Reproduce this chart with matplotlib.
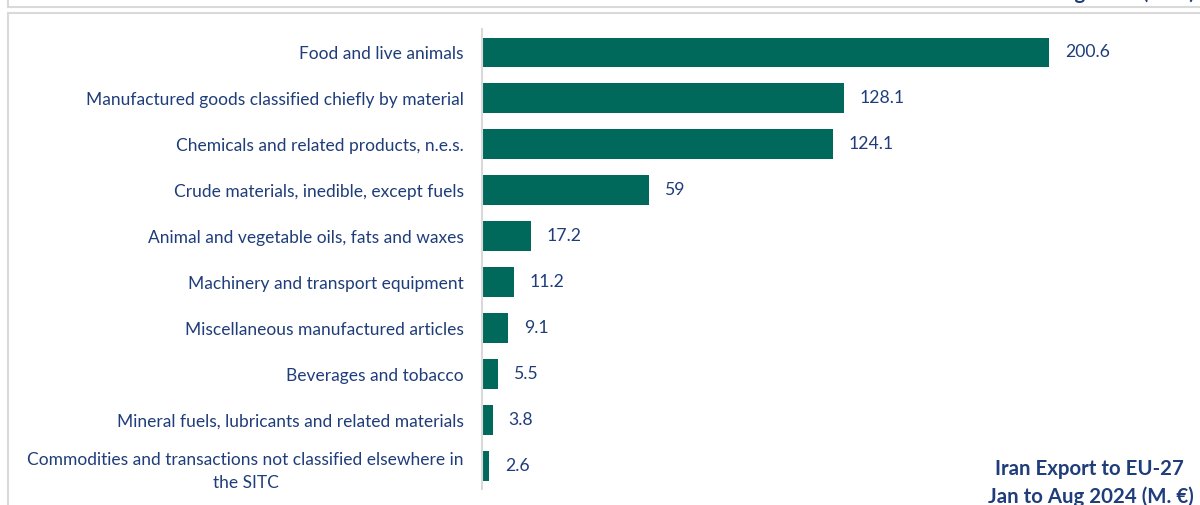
import matplotlib.pyplot as plt
from matplotlib.lines import Line2D

categories = [
    'Food and live animals',
    'Manufactured goods classified chiefly by material',
    'Chemicals and related products, n.e.s.',
    'Crude materials, inedible, except fuels',
    'Animal and vegetable oils, fats and waxes',
    'Machinery and transport equipment',
    'Miscellaneous manufactured articles',
    'Beverages and tobacco',
    'Mineral fuels, lubricants and related materials',
    'Commodities and transactions not classified elsewhere in\nthe SITC',
]
values = [200.6, 128.1, 124.1, 59, 17.2, 11.2, 9.1, 5.5, 3.8, 2.6]
value_labels = ['200.6', '128.1', '124.1', '59', '17.2', '11.2', '9.1', '5.5', '3.8', '2.6']

bar_color = '#00695C'
text_color = '#1F3D7A'
plt.rcParams['font.family'] = ['Lato', 'DejaVu Sans']

W, H = 1200, 505
fig = plt.figure(figsize=(W / 100, H / 100), dpi=100)

# axes placed in pixel terms
left, right, top, bottom = 482, 1200, 29.5, 489
ax = fig.add_axes([left / W, (H - bottom) / H, (right - left) / W, (bottom - top) / H])

y = list(range(len(categories)))
ax.barh(y, values, height=0.65, color=bar_color)
ax.set_ylim(len(categories) - 0.5, -0.5)
ax.set_xlim(0, (right - left) / 2.826)

for yi, v, lab in zip(y, values, value_labels):
    ax.annotate(lab, (v, yi), xytext=(11.5, 0), textcoords='offset points',
                va='center', ha='left', color=text_color, fontsize=12.7)

ax.set_yticks(y)
ax.set_yticklabels(categories, fontsize=12.5, color=text_color,
                   multialignment='center', linespacing=1.55)
ax.tick_params(axis='y', length=0, pad=13)
ax.set_xticks([])
for s in ['top', 'right', 'bottom']:
    ax.spines[s].set_visible(False)
ax.spines['left'].set_color('#D9D9D9')
ax.spines['left'].set_linewidth(1.5)

# frame lines of the surrounding boxes
def px_line(x0, y0, x1, y1):
    fig.add_artist(Line2D([x0 / W, x1 / W], [1 - y0 / H, 1 - y1 / H],
                          color='#D9D9D9', lw=1.5, transform=fig.transFigure))

px_line(8, 0, 8, 7)
px_line(8, 7, W, 7)
px_line(8, 13, W, 13)
px_line(8, 13, 8, H)

# chart title, bottom right (partly cut)
fig.text(1089 / W, 1 - 469 / H, 'Iran Export to EU-27', ha='center', va='center',
         fontsize=14.7, fontweight='bold', color=text_color)
fig.text(1091 / W, 1 - 497 / H, 'Jan to Aug 2024 (M. €)', ha='center', va='center',
         fontsize=14.7, fontweight='bold', color=text_color)
# cut-off title of the chart above
fig.text(1092 / W, 1 - (-7) / H, 'Jan to Aug 2024 (M. €)', ha='center', va='center',
         fontsize=14.7, fontweight='bold', color=text_color)

fig.savefig('out.png', dpi=100)
